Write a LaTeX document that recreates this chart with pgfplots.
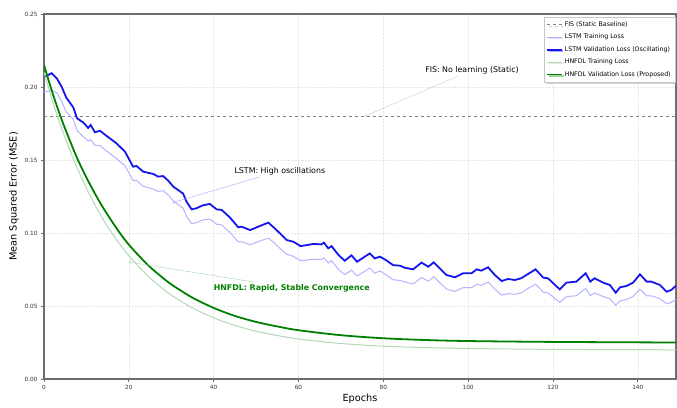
\documentclass[border=0pt]{standalone}
\usepackage{pgfplots}
\pgfplotsset{compat=1.18}
\usepackage{pgfplotstable}
\usepackage{fontspec}
\setmainfont{DejaVu Sans}
\usetikzlibrary{shadows}

\definecolor{lblue}{RGB}{179,179,255}
\definecolor{mblue}{RGB}{20,20,240}
\definecolor{mgreen}{RGB}{0,128,0}
\definecolor{lgreen}{RGB}{179,217,179}
\definecolor{spine}{RGB}{110,110,110}

\pgfplotstableread{
x lv lt
0 0.2070 0.1970
0.8 0.2080 0.1970
1.8 0.2094 0.1975
3 0.2060 0.1960
4.2 0.2000 0.1900
5.2 0.1930 0.1830
6.9 0.1860 0.1780
7.8 0.1785 0.1700
9.3 0.1756 0.1660
10.4 0.1720 0.1630
11 0.1740 0.1640
12 0.1690 0.1600
13.2 0.1700 0.1600
14.8 0.1664 0.1560
17.1 0.1614 0.1510
19.1 0.1557 0.1460
21 0.1454 0.1360
21.8 0.1459 0.1360
23.4 0.1420 0.1320
25.8 0.1404 0.1300
26.9 0.1386 0.1285
28.1 0.1390 0.1290
29.3 0.1358 0.1260
30.5 0.1317 0.1220
32.8 0.1270 0.1170
33.6 0.1214 0.1115
34.8 0.1162 0.1065
35.9 0.1169 0.1070
37.5 0.1190 0.1090
39.1 0.1199 0.1095
40.7 0.1162 0.1060
41.9 0.1158 0.1055
43.8 0.1107 0.1005
45.8 0.1039 0.0940
46.6 0.1043 0.0940
48.6 0.1020 0.0920
50.9 0.1048 0.0945
52.9 0.1071 0.0965
54.4 0.1032 0.0930
55.6 0.0998 0.0895
57.2 0.0952 0.0855
58.8 0.0940 0.0840
60.5 0.0910 0.0810
63.5 0.0925 0.0820
65.4 0.0922 0.0820
66 0.0934 0.0830
67 0.0895 0.0795
67.8 0.0910 0.0810
69.4 0.0850 0.0750
70.9 0.0810 0.0715
72.5 0.0847 0.0745
73.8 0.0803 0.0705
76.8 0.0860 0.0760
78 0.0826 0.0725
79.2 0.0838 0.0740
80.6 0.0815 0.0715
82.3 0.0780 0.0680
83.9 0.0776 0.0675
85.1 0.0762 0.0665
87 0.0751 0.0650
89 0.0797 0.0695
90.6 0.0769 0.0670
91.9 0.0799 0.0700
93.3 0.0758 0.0660
94.9 0.0712 0.0615
96.9 0.0697 0.0600
98.8 0.0724 0.0625
100.8 0.0724 0.0625
102 0.0751 0.0650
103.1 0.0742 0.0640
104.7 0.0765 0.0665
106.3 0.0712 0.0615
107.9 0.0671 0.0575
109.4 0.0685 0.0585
111 0.0678 0.0580
112.5 0.0690 0.0590
114.1 0.0719 0.0620
115.9 0.0751 0.0650
117.7 0.0694 0.0595
118.8 0.0690 0.0590
121.6 0.0614 0.0525
123.2 0.0660 0.0565
125.5 0.0667 0.0570
127.7 0.0724 0.0620
128.8 0.0667 0.0570
129.8 0.0690 0.0590
131.8 0.0660 0.0565
133.4 0.0644 0.0550
134.8 0.0591 0.0505
135.8 0.0628 0.0535
137.3 0.0637 0.0545
138.9 0.0660 0.0565
140.5 0.0717 0.0615
142.1 0.0667 0.0570
143.2 0.0667 0.0570
145.2 0.0644 0.0550
146.8 0.0598 0.0515
147.9 0.0610 0.0525
149 0.0639 0.0545
}\lstm

\pgfplotstableread{
x hv ht
0 0.2150 0.2100
2 0.1960 0.1905
4 0.1790 0.1730
6 0.1640 0.1574
8 0.1500 0.1433
10 0.1380 0.1307
12 0.1270 0.1193
14 0.1170 0.1090
16 0.1080 0.1000
18 0.0995 0.0918
20 0.0920 0.0845
22.5 0.0840 0.0765
25 0.0767 0.0692
27.5 0.0705 0.0630
30 0.0648 0.0575
35 0.0557 0.0487
40 0.0487 0.0419
45 0.0432 0.0367
50 0.0391 0.0327
55 0.0360 0.0298
60 0.0334 0.0274
70 0.0300 0.0243
80 0.0279 0.0225
90 0.0267 0.0215
100 0.0260 0.0209
120 0.0254 0.0203
149 0.0250 0.0200
}\hnfdl

\begin{document}
\begin{tikzpicture}
\useasboundingbox (-44bp,-29bp) rectangle (633bp,379bp);
\begin{axis}[
  at={(0,0)}, anchor=south west,
  scale only axis, width=632bp, height=365bp,
  xmin=0, xmax=149, ymin=0, ymax=0.25,
  xtick={0,20,40,60,80,100,120,140},
  ytick={0,0.05,0.10,0.15,0.20,0.25},
  yticklabel style={/pgf/number format/.cd, fixed, fixed zerofill, precision=2},
  /pgf/number format/assume math mode=true,
  ticklabel style={font=\fontsize{5.8}{7}\selectfont, text=black!80},
  tick pos=left, tick align=outside, major tick length=3bp,
  tick style={spine, line width=0.8bp},
  axis line style={spine, line width=1.1bp},
  grid=major,
  major grid style={densely dotted, gray!18, line width=0.4bp},
  xlabel={Epochs}, ylabel={Mean Squared Error (MSE)},
  label style={font=\fontsize{9.8}{11}\selectfont},
  xlabel style={yshift=3bp},
  ylabel style={yshift=-1bp},
  legend cell align=left,
  legend image post style={xscale=0.85},
  legend style={at={(0.999,0.992)}, anchor=north east,
    font=\fontsize{6.3}{7.5}\selectfont, draw=gray!45, fill=white,
    drop shadow={shadow xshift=1.5bp, shadow yshift=-1.5bp, opacity=0.35},
    row sep=2.2bp, inner sep=2.5bp},
]
\addplot[gray, dashed, line width=0.9bp] coordinates {(0,0.18) (149,0.18)};
\addlegendentry{FIS (Static Baseline)}
\addplot[lblue, line width=1bp] table[x=x, y=lt] {\lstm};
\addlegendentry{LSTM Training Loss}
\addplot[mblue, line width=1.8bp] table[x=x, y=lv] {\lstm};
\addlegendentry{LSTM Validation Loss (Oscillating)}
\addplot[lgreen, line width=1bp, smooth] table[x=x, y=ht] {\hnfdl};
\addlegendentry{HNFDL Training Loss}
\addplot[mgreen, line width=1.8bp, smooth] table[x=x, y=hv] {\hnfdl};
\addlegendentry{HNFDL Validation Loss (Proposed)}

\node[font=\fontsize{7.9}{9}\selectfont, inner sep=2bp] (fis) at (axis cs:100.9,0.2116) {FIS: No learning (Static)};
\draw[->, gray!35, line width=0.5bp] (fis) -- (axis cs:75.6,0.18);
\node[font=\fontsize{7.9}{9}\selectfont, inner sep=2bp] (ls) at (axis cs:55.6,0.1425) {LSTM: High oscillations};
\draw[->, lblue, line width=0.5bp] (ls) -- (axis cs:30.3,0.1208);
\node[font=\fontsize{7.9}{9}\selectfont\bfseries, text=mgreen, inner sep=2bp] (hn) at (axis cs:58.4,0.0623) {HNFDL: Rapid, Stable Convergence};
\draw[->, lgreen, line width=0.5bp] (hn) -- (axis cs:20,0.0801);
\end{axis}
\end{tikzpicture}
\end{document}
